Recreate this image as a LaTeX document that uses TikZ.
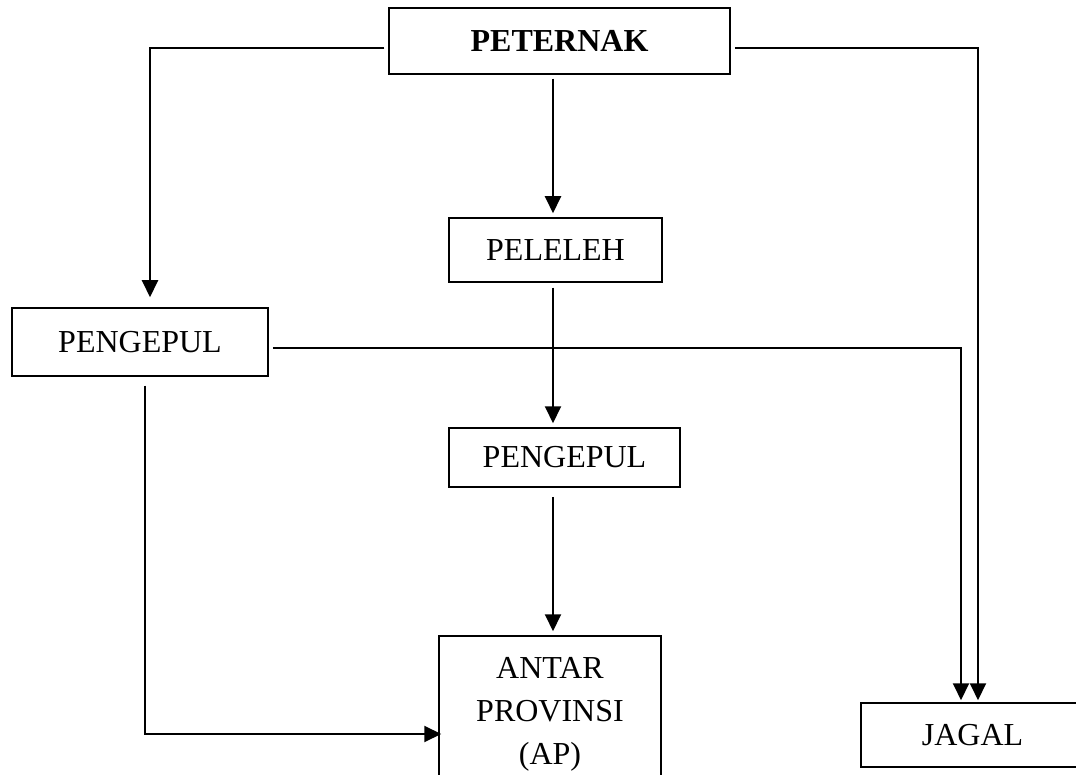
\documentclass[tikz,border=0pt]{standalone}
\usepackage{fontspec}
\setmainfont{Liberation Serif}
\usetikzlibrary{arrows.meta,positioning}

\begin{document}
\begin{tikzpicture}[x=1pt, y=-1pt, font=\fontsize{32}{43}\selectfont,
    box/.style={draw, rectangle, line width=1.5pt, inner sep=0pt, align=center},
    flow/.style={-{Triangle[length=17pt,width=16pt]}, line width=2pt, shorten <=4pt, shorten >=4pt}]
    \useasboundingbox (0,0) rectangle (1076,775);

    \node[box, minimum width=341pt, minimum height=66pt] (peternak) at (559.5,41) {\textbf{PETERNAK}};
    \node[box, minimum width=213pt, minimum height=64pt] (peleleh) at (555.5,250) {PELELEH};
    \node[box, minimum width=256pt, minimum height=68pt] (pengepulA) at (140,342) {PENGEPUL};
    \node[box, minimum width=231pt, minimum height=59pt] (pengepulB) at (564.5,457.5) {PENGEPUL};
    \node[box, minimum width=222pt, minimum height=156pt] (ap) at (550,714) {ANTAR\\PROVINSI\\(AP)};
    \node[box, minimum width=223pt, minimum height=64pt] (jagal) at (972.5,735) {JAGAL};

    \coordinate (midcol) at (553,0);
    \coordinate (leftcol) at (150,0);
    \coordinate (lowcol) at (145,0);
    \coordinate (jagalA) at (961,0);
    \coordinate (jagalB) at (978,0);
    \coordinate (toprow) at (0,48);
    \coordinate (crossrow) at (0,348);
    \coordinate (lowrow) at (0,734);

    \draw[flow] (peternak.south -| midcol) -- (peleleh.north -| midcol);
    \draw[flow, shorten <=5pt] (peleleh.south -| midcol) -- (pengepulB.north -| midcol);
    \draw[flow, shorten <=9pt] (pengepulB.south -| midcol) -- (ap.north -| midcol);

    \draw[flow, shorten >=10pt] (peternak.west |- toprow) -| (leftcol |- pengepulA.north);
    \draw[flow, shorten >=2pt] (peternak.east |- toprow) -| (jagalB |- jagal.north);
    \draw[flow, shorten >=2pt] (pengepulA.east |- crossrow) -| (jagalA |- jagal.north);
    \draw[flow, shorten <=9pt, shorten >=-3pt] (lowcol |- pengepulA.south) |- (ap.west |- lowrow);
\end{tikzpicture}
\end{document}
